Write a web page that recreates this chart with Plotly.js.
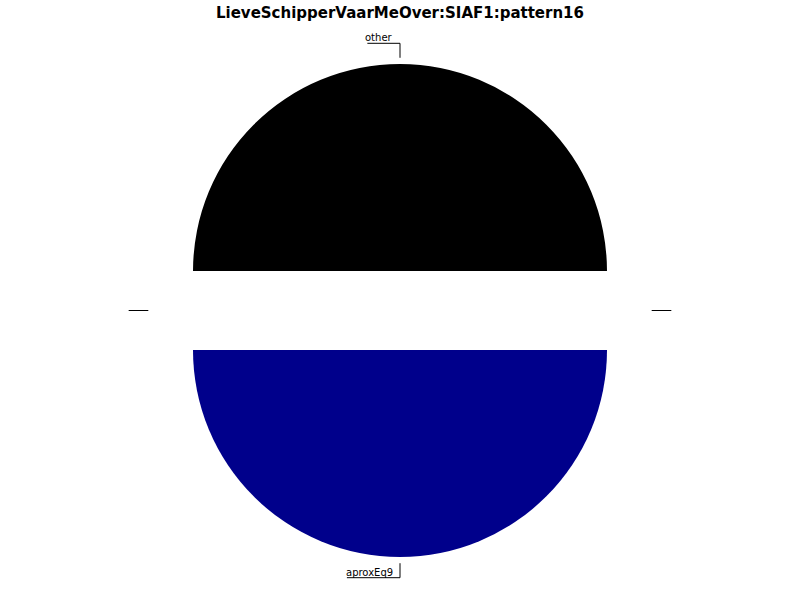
<!DOCTYPE html>
<html>
<head>
<meta charset="utf-8">
<script src="https://cdn.plot.ly/plotly-3.0.1.min.js"></script>
<style>html,body{margin:0;padding:0;background:#fff;}#chart{width:800px;height:600px;}</style>
</head>
<body>
<div id="chart"></div>
<script>
// ---- data (counterclockwise from 3 o'clock, matplotlib-style) ----
const sliceLabels = ['other', '', 'aproxEq9', ''];
const sliceValues = [50, 0, 50, 0];
const sliceColors = ['#000000', '#1f77b4', '#00008B', '#ff7f0e'];
const chartTitle = 'LieveSchipperVaarMeOver:SIAF1:pattern16';

// ---- layout constants ----
const W = 800, H = 600;
const M = {l: 0, r: 0, t: 64, b: 43};
const PULL = 0.1908;
const LABEL_FONT = {family: 'DejaVu Sans', size: 10, color: '#000'};

// visible slices for the pie itself
const pieLabels = [], pieValues = [], pieColors = [];
sliceValues.forEach((v, i) => {
  if (v > 0) { pieLabels.push(sliceLabels[i]); pieValues.push(v); pieColors.push(sliceColors[i]); }
});

// geometry as Plotly computes it
const pw = W - M.l - M.r, ph = H - M.t - M.b;
const r = Math.min(pw, ph) / 2 / (1 + PULL);
const cx = M.l + pw / 2, cy = M.t + ph / 2;
const toPX = x => (x - M.l) / pw;
const toPY = y => 1 - (y - M.t) / ph;

const ctx = document.createElement('canvas').getContext('2d');
ctx.font = '10px "DejaVu Sans"';

const total = sliceValues.reduce((a, b) => a + b, 0);
const shapes = [], annotations = [];
let acc = 0;
sliceValues.forEach((v, i) => {
  const mid = (acc + v / 2) / total * 2 * Math.PI;
  acc += v;
  const dx = Math.round(Math.cos(mid) * 1e9) / 1e9;
  const dy = -Math.round(Math.sin(mid) * 1e9) / 1e9;
  const txt = sliceLabels[i];
  const inner = txt ? 1.03 : 1.025, outer = txt ? 1.1 : 1.12;
  const pcx = cx + PULL * r * dx, pcy = cy + PULL * r * dy;
  const x1 = pcx + inner * r * dx, y1 = pcy + inner * r * dy;
  const x2 = pcx + outer * r * dx, y2 = pcy + outer * r * dy;
  const line = {color: '#000', width: 1};
  shapes.push({type: 'line', xref: 'paper', yref: 'paper', x0: toPX(x1), y0: toPY(y1), x1: toPX(x2), y1: toPY(y2), line});
  if (txt) {
    const tw = ctx.measureText(txt).width;
    const left = dx <= 0;
    const xe = left ? x2 - 6 - tw : x2 + 6 + tw;
    shapes.push({type: 'line', xref: 'paper', yref: 'paper', x0: toPX(x2), y0: toPY(y2), x1: toPX(xe), y1: toPY(y2), line});
    annotations.push({
      xref: 'paper', yref: 'paper', x: toPX(left ? x2 - 6 : x2 + 6), y: toPY(y2),
      xanchor: left ? 'right' : 'left', yanchor: 'bottom', yshift: -1,
      text: txt, showarrow: false, font: LABEL_FONT, borderpad: 0
    });
  }
});

const data = [{
  type: 'pie',
  labels: pieLabels,
  values: pieValues,
  marker: {colors: pieColors, line: {width: 0}},
  sort: false,
  direction: 'counterclockwise',
  rotation: 270,
  pull: PULL,
  textinfo: 'none',
  hoverinfo: 'label+percent',
  domain: {x: [0, 1], y: [0, 1]}
}];

const layout = {
  width: W, height: H,
  margin: M,
  paper_bgcolor: '#fff',
  showlegend: false,
  title: {
    text: chartTitle,
    font: {family: 'DejaVu Sans', size: 15, weight: 'bold', color: '#000'},
    x: 0.5, xanchor: 'center', y: 1 - 13 / H, yref: 'container', yanchor: 'middle'
  },
  shapes, annotations
};

Plotly.newPlot('chart', data, layout, {displayModeBar: false, staticPlot: true});
</script>
</body>
</html>
